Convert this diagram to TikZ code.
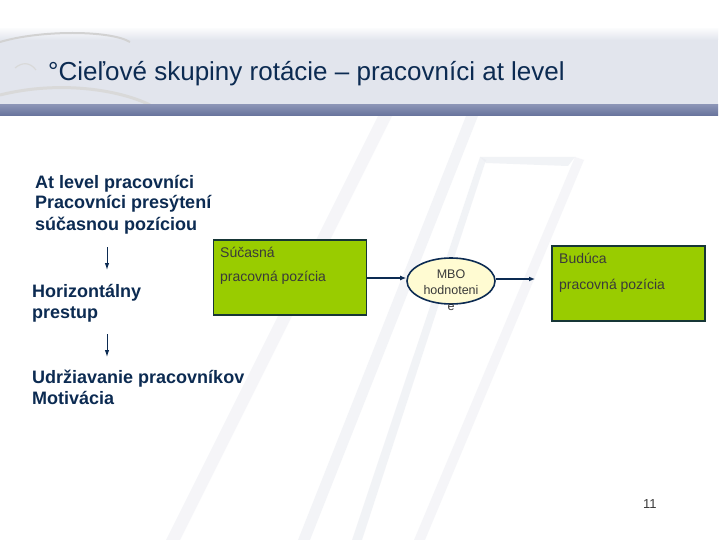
\documentclass[tikz,border=0pt]{standalone}
\usepackage{fontspec}
\setmainfont{Liberation Sans}
\usetikzlibrary{arrows.meta,shapes.geometric}
\definecolor{navy}{HTML}{0C2B52}
\definecolor{boxgreen}{HTML}{99CC00}
\definecolor{boxline}{HTML}{173636}
\definecolor{ellfill}{HTML}{FFFBD2}
\definecolor{boxtext}{HTML}{3A3A3A}
\definecolor{band}{HTML}{E2E5ED}
\definecolor{stripe}{HTML}{E9EBF1}
\definecolor{striptop}{HTML}{8A93B5}
\definecolor{stripbot}{HTML}{66729B}
\tikzset{
  headtext/.style={anchor=base west,inner sep=0pt,text=navy,font=\fontsize{18}{21}\selectfont\bfseries,align=left},
  posbox/.style={draw=boxline,line width=1.8pt,fill=boxgreen,minimum width=153pt,minimum height=75pt,inner sep=0pt},
  boxlabel/.style={anchor=base west,inner sep=0pt,text=boxtext,font=\fontsize{14}{16}\selectfont},
  flow/.style={draw=navy,line width=1.3pt,-{Latex[length=6pt,width=5pt]}},
  downflow/.style={draw=navy,line width=1pt,-{Latex[length=7pt,width=4.5pt]}},
}
\begin{document}
\begin{tikzpicture}[x=1pt,y=-1pt]
\useasboundingbox (0,0) rectangle (720,540);
\fill[white] (0,0) rectangle (720,540);
% background stripes
\fill[stripe,opacity=0.45] (378,116) -- (392,116) -- (180,540) -- (166,540) -- cycle;
\fill[stripe,opacity=0.5] (466,116) -- (478,116) -- (310,540) -- (298,540) -- cycle;
\fill[stripe,opacity=0.6] (480,157) -- (575,157) -- (568,166) -- (486,163) -- cycle;
\fill[stripe,opacity=0.6] (480,157) -- (486,160) -- (362,540) -- (352,540) -- cycle;
\fill[stripe,opacity=0.45] (575,157) -- (584,160) -- (425,540) -- (414,540) -- cycle;
% header
\fill[band] (0,29) rectangle (718,105);
\shade[top color=white!80!band,bottom color=band] (0,29) rectangle (718,40);
\draw[gray!35,line width=2pt] (0,42) .. controls (40,30) and (110,30) .. (130,42);
\draw[gray!30,line width=3pt] (0,95) .. controls (60,80) and (120,90) .. (150,105);
\draw[gray!30,line width=1.2pt] (15,68) .. controls (22,62) and (30,62) .. (36,70);
\shade[top color=striptop,bottom color=stripbot] (0,105) rectangle (718,116);
% title
\node[anchor=base west,inner sep=0pt,text=navy,font=\fontsize{26}{28}\selectfont] (title) at (48,81) {°Cieľové skupiny rotácie – pracovníci at level};
% left column
\node[headtext] (atlevel) at (35,230) {At level pracovníci\\Pracovníci presýtení\\súčasnou pozíciou};
\node[headtext] (horiz) at (32,318) {Horizontálny\\prestup};
\node[headtext] (udrz) at (32,404) {Udržiavanie pracovníkov\\Motivácia};
\coordinate (d1s) at (107,247);
\coordinate (d1e) at (107,270);
\coordinate (d2s) at (107,334);
\coordinate (d2e) at (107,357);
\draw[downflow] (d1s) -- (d1e);
\draw[downflow] (d2s) -- (d2e);
% boxes
\node[posbox] (cur) at (290,277.5) {};
\node[boxlabel] (curA) at (220,257) {Súčasná};
\node[boxlabel] (curB) at (220,281) {pracovná pozícia};
\node[ellipse,draw=navy,line width=1.6pt,fill=ellfill,minimum width=88pt,minimum height=46pt,inner sep=0pt] (mbo) at (451,281) {};
\node[inner sep=0pt,text=boxtext,font=\fontsize{12.5}{16}\selectfont,align=center,anchor=base] (mbotext) at (451,310) {MBO\\hodnoteni\\e};
\node[posbox] (fut) at (628.5,283.5) {};
\node[boxlabel] (futA) at (559,263) {Budúca};
\node[boxlabel] (futB) at (559,289) {pracovná pozícia};
\draw[flow] (cur.east |- 0,278) -- (mbo.west |- 0,278);
\draw[flow] (mbo.east |- 0,279) -- (535,279) coordinate (futin);
% page number
\node[anchor=base west,inner sep=0pt,text=boxtext,font=\fontsize{13}{15}\selectfont] (pnum) at (643,508) {11};
\end{tikzpicture}
\end{document}
